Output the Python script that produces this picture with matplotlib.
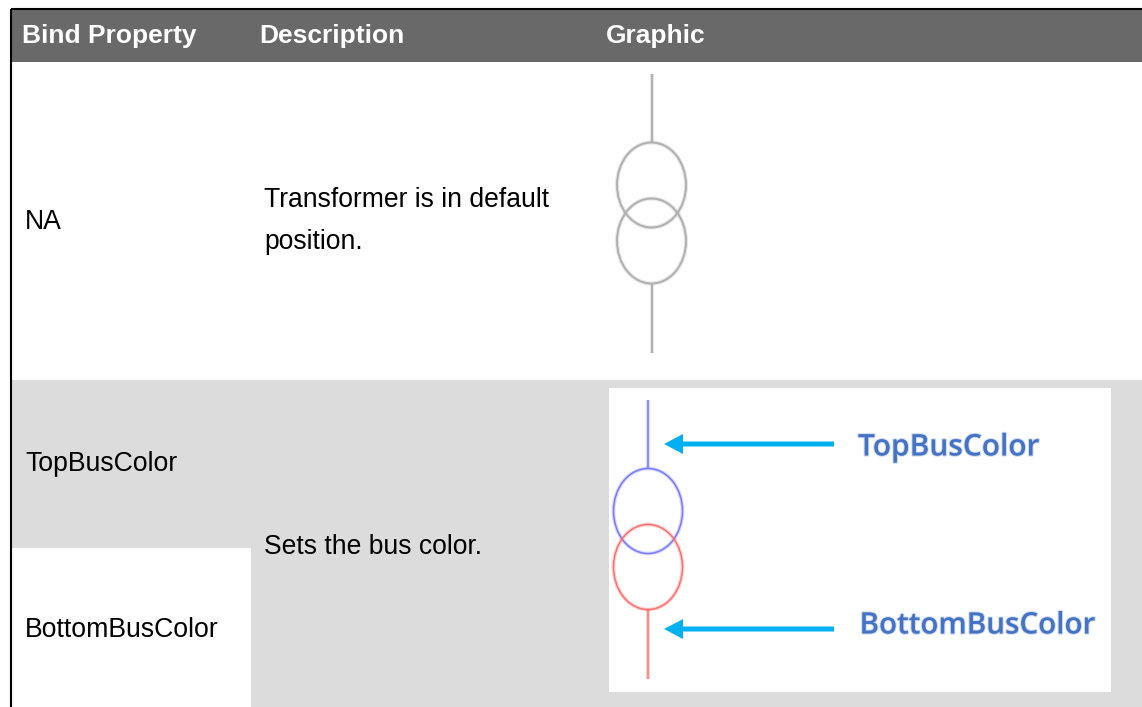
import matplotlib
matplotlib.use('Agg')
import matplotlib.pyplot as plt
from matplotlib.patches import Rectangle, Ellipse
import matplotlib.patheffects as pe

header_labels = ['Bind Property', 'Description', 'Graphic']
header_x = [22, 259, 606]
property_labels = ['NA', 'TopBusColor', 'BottomBusColor']
property_y = [222, 464, 630]
description_labels = ['Transformer is in default\nposition.', 'Sets the bus color.']
description_y = [221, 547]
annotation_labels = ['TopBusColor', 'BottomBusColor']

HEADER_GREY = '#696969'
ROW_GREY = '#dcdcdc'
ANNOT_BLUE = '#4472c4'
ARROW_BLUE = '#00b0f0'

plt.rcParams['font.family'] = ['Liberation Sans', 'DejaVu Sans']

fig = plt.figure(figsize=(11.42, 7.07), dpi=100, facecolor='w')
ax = fig.add_axes([0, 0, 1, 1])
ax.set_xlim(0, 1142)
ax.set_ylim(707, 0)
ax.axis('off')

# table background
ax.add_patch(Rectangle((11, 9), 1131, 53, fc=HEADER_GREY, ec='none'))
ax.add_patch(Rectangle((11, 380), 1131, 168, fc=ROW_GREY, ec='none'))
ax.add_patch(Rectangle((251, 548), 891, 159, fc=ROW_GREY, ec='none'))
ax.plot([11, 11], [707, 9], color='k', lw=1.5, solid_capstyle='butt')
ax.plot([11, 1142], [9, 9], color='k', lw=1.5, solid_capstyle='butt')

for x, label in zip(header_x, header_labels):
    ax.text(x, 36, label, color='w', fontsize=19, fontweight='bold', va='center')
for y, label in zip(property_y, property_labels):
    ax.text(25, y, label, color='k', fontsize=19.2, va='center')
for y, label in zip(description_y, description_labels):
    ax.text(264, y, label, color='k', fontsize=19.1, va='center', linespacing=1.78)


def transformer(x, top, c1, c2, lw=1.4):
    # soft halo, the original symbol is a scaled up bitmap
    soft1 = [pe.withStroke(linewidth=lw + 1.6, foreground=c1, alpha=0.3)]
    soft2 = [pe.withStroke(linewidth=lw + 1.6, foreground=c2, alpha=0.3)]
    ax.plot([x, x], [top, top + 68], color=c1, lw=lw, solid_capstyle='butt', path_effects=soft1)
    ax.add_patch(Ellipse((x, top + 111), 69, 85, fc='none', ec=c1, lw=lw, path_effects=soft1))
    ax.add_patch(Ellipse((x, top + 167), 69, 85, fc='none', ec=c2, lw=lw, path_effects=soft2))
    ax.plot([x, x], [top + 210, top + 279], color=c2, lw=lw, solid_capstyle='butt', path_effects=soft2)


transformer(651.5, 74, '#b0b0b0', '#b0b0b0')

# inset picture
ax.add_patch(Rectangle((609, 388), 502, 304, fc='w', ec='none'))
transformer(648, 400, '#7a7aff', '#ff7070', lw=1.1)

for y in [444, 629]:
    ax.arrow(834, y, -170, 0, width=5, head_width=20, head_length=19,
             length_includes_head=True, fc=ARROW_BLUE, ec='none')

soft_text = [pe.withStroke(linewidth=1.5, foreground=ANNOT_BLUE, alpha=0.25)]
ax.text(858, 447.5, annotation_labels[0], color=ANNOT_BLUE, fontsize=21.5,
        family='Open Sans', fontweight='semibold', va='center', path_effects=soft_text)
ax.text(859.5, 625.5, annotation_labels[1], color=ANNOT_BLUE, fontsize=21.3,
        family='Open Sans', fontweight='semibold', va='center', path_effects=soft_text)

fig.savefig('out.png', dpi=100)
